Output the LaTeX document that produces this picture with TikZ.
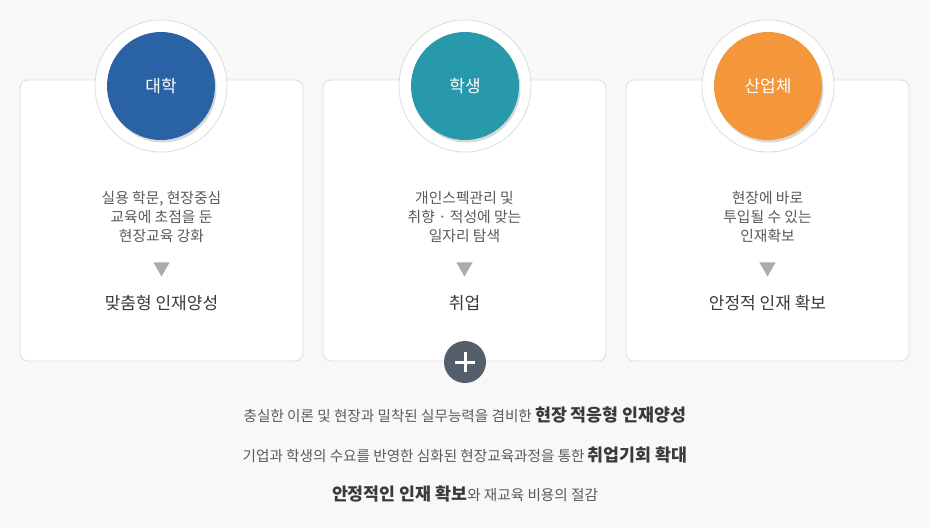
\documentclass[tikz,border=0pt]{standalone}
\usepackage{fontspec}
\setmainfont{Noto Sans CJK KR}
\usetikzlibrary{shapes.geometric,shadows}
\definecolor{bg}{HTML}{F8F8F8}
\definecolor{edge}{HTML}{DCDCDC}
\definecolor{uniblue}{HTML}{2A62A6}
\definecolor{stuteal}{HTML}{2898AB}
\definecolor{indorange}{HTML}{F4973B}
\definecolor{txt}{HTML}{5A5A5A}
\definecolor{dark}{HTML}{3A3A3A}
\definecolor{tri}{HTML}{A9ADB2}
\definecolor{plusbg}{HTML}{555F6B}
\tikzset{
card/.style={draw=edge,fill=white,rounded corners=8pt,minimum width=283pt,minimum height=281pt,line width=.8pt},
ring/.style={circle,draw=edge,fill=white,minimum size=132pt,line width=.8pt},
disc/.style={circle,minimum size=108pt,text=white,font=\fontsize{17}{19}\selectfont,
  drop shadow={shadow xshift=1.5pt,shadow yshift=-2.5pt,opacity=.3}},
desc/.style={align=center,text=txt,font=\fontsize{14.8}{19}\selectfont},
result/.style={text=dark,font=\fontsize{17}{19}\selectfont},
arrowtri/.style={regular polygon,regular polygon sides=3,shape border rotate=180,fill=tri,minimum size=19pt,inner sep=0pt},
summary/.style={text=txt,font=\fontsize{14.6}{17}\selectfont},
}
\newcommand{\hl}[1]{{\fontsize{17.3}{18}\selectfont\bfseries\color{dark}#1}}
\begin{document}
\begin{tikzpicture}[x=1pt,y=-1pt]
\fill[bg](0,0)rectangle(930,528);
\useasboundingbox(0,0)rectangle(930,528);
% cards
\node[card](unibox)at(161.5,220.5){};
\node[card](stubox)at(464.5,220.5){};
\node[card](indbox)at(767.5,220.5){};
% circles
\node[ring](uniring)at(161,86){};
\node[ring](stuing)at(465,86){};
\node[ring](indring)at(768,86){};
\node[disc,fill=uniblue](uni)at(161,86){대학};
\node[disc,fill=stuteal](stu)at(465,86){학생};
\node[disc,fill=indorange](ind)at(768,86){산업체};
% texts
\node[desc](unidesc)at(161.5,217){실용 학문, 현장중심\\교육에 초점을 둔\\현장교육 강화};
\node[desc](studesc)at(464.5,217){개인스펙관리 및\\취향 · 적성에 맞는\\일자리 탐색};
\node[desc](inddesc)at(767.5,217){현장에 바로\\투입될 수 있는\\인재확보};
\node[arrowtri](unitri)at(161.5,267){};
\node[arrowtri](stutri)at(464.5,267){};
\node[arrowtri](indtri)at(767.5,267){};
\node[result](unires)at(161.5,303){맞춤형 인재양성};
\node[result](stures)at(464.5,303){취업};
\node[result](indres)at(767.5,303){안정적 인재 확보};
% plus
\node[circle,fill=plusbg,minimum size=42pt](plus)at(465,362){};
\draw[white,line width=3pt]([xshift=-10pt]plus.center)--([xshift=10pt]plus.center)
  ([yshift=-10pt]plus.center)--([yshift=10pt]plus.center);
% summary
\node[summary](line1)at(465,415){충실한 이론 및 현장과 밀착된 실무능력을 겸비한 \hl{현장 적응형 인재양성}};
\node[summary](line2)at(465,455){기업과 학생의 수요를 반영한 심화된 현장교육과정을 통한 \hl{취업기회 확대}};
\node[summary](line3)at(465,494){\hl{안정적인 인재 확보}와 재교육 비용의 절감};
\end{tikzpicture}
\end{document}
